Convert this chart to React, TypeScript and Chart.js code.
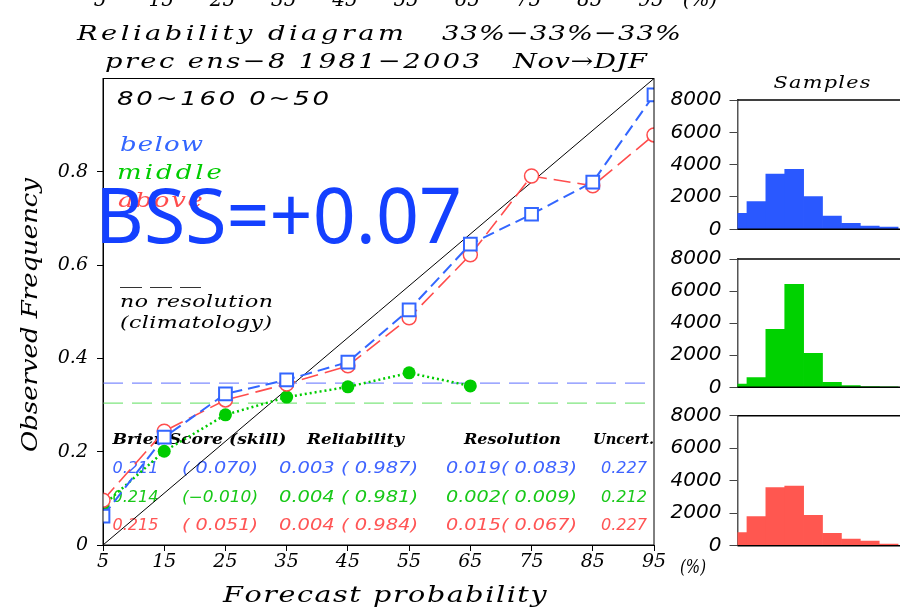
import React, { useEffect, useRef } from 'react';
import { Chart, registerables } from 'chart.js';

Chart.register(...registerables);

// ---------------- data ----------------
const FCST = [5, 15, 25, 35, 45, 55, 65, 75, 85, 95];
const OBS_BELOW = [0.062, 0.231, 0.324, 0.354, 0.392, 0.504, 0.645, 0.709, 0.778, 0.965];
const OBS_MIDDLE = [0.085, 0.201, 0.279, 0.317, 0.339, 0.369, 0.341, null, null, null];
const OBS_ABOVE = [0.096, 0.244, 0.311, 0.345, 0.384, 0.487, 0.622, 0.791, 0.770, 0.879];
const CLIM_BELOW = 0.347;
const CLIM_MIDDLE = 0.304;
const Y_TICKS = [0, 0.2, 0.4, 0.6, 0.8];

const HIST_BINS = [0, 1, 2, 3, 4, 5, 6, 7, 8];
const HIST_BELOW = [990, 1708, 3420, 3712, 2017, 823, 371, 204, 142];
const HIST_MIDDLE = [206, 600, 3616, 6422, 2120, 312, 100, 40, 12];
const HIST_ABOVE = [800, 1785, 3570, 3674, 1870, 763, 412, 289, 105];
const HIST_TICKS = [0, 2000, 4000, 6000, 8000];

const CATEGORIES = ['below', 'middle', 'above'];
const BRIER = [0.211, 0.214, 0.215];
const BRIER_SKILL = [0.07, -0.01, 0.051];
const RELIAB = [0.003, 0.004, 0.004];
const RELIAB_SKILL = [0.987, 0.981, 0.984];
const RESOL = [0.019, 0.002, 0.015];
const RESOL_SKILL = [0.083, 0.009, 0.067];
const UNCERT = [0.227, 0.212, 0.227];
const BSS = 0.07;

const TITLE_1A = 'Reliability diagram';
const TITLE_1B = '33%\u221233%\u221233%';
const TITLE_2A = 'prec ens\u22128 1981\u22122003';
const TITLE_2B = 'Nov\u2192DJF';
const REGION = '80~160 0~50';

// ---------------- styles ----------------
const SERIF = '"DejaVu Serif", "Liberation Serif", serif';
const SANS = '"DejaVu Sans", "Liberation Sans", sans-serif';
const BLUE = '#3366ff';
const GREEN = '#00cc00';
const RED = '#ff4d4d';
const CAT_COLORS = ['#3f64ff', '#18c818', '#ff5555'];

function fmt3(v: number) {
  return v.toFixed(3);
}
function fmtSkill(v: number) {
  return v < 0 ? '\u2212' + Math.abs(v).toFixed(3) : ' ' + v.toFixed(3);
}

function fitText(
  ctx: CanvasRenderingContext2D,
  text: string,
  x: number,
  y: number,
  width: number,
  font: string,
  color: string,
  align: 'left' | 'center' = 'left',
  maxStretch = 1.3
) {
  ctx.save();
  ctx.font = font;
  ctx.fillStyle = color;
  ctx.textAlign = 'left';
  ctx.textBaseline = 'alphabetic';
  const chars = Array.from(text);
  const w = ctx.measureText(text).width;
  const left = align === 'center' ? x - width / 2 : x;
  const ratio = width / w;
  ctx.translate(left, y);
  if (ratio <= 1 || chars.length < 2) {
    ctx.scale(ratio, 1);
    ctx.fillText(text, 0, 0);
  } else {
    const sx = Math.min(ratio, maxStretch);
    const ls = (width - w * sx) / (chars.length - 1);
    ctx.scale(sx, 1);
    let cx = 0;
    for (const ch of chars) {
      ctx.fillText(ch, cx, 0);
      cx += ctx.measureText(ch).width + ls / sx;
    }
  }
  ctx.restore();
}

const mainTextPlugin = {
  id: 'mainText',
  beforeDatasetsDraw(chart: any) {
    const ctx: CanvasRenderingContext2D = chart.ctx;
    // region label and legend
    fitText(ctx, REGION, 117, 105, 212, 'italic 20px ' + SANS, '#000');
    fitText(ctx, CATEGORIES[0], 120, 151, 83, 'italic 20px ' + SERIF, BLUE);
    fitText(ctx, CATEGORIES[1], 117, 179, 105, 'italic 20px ' + SERIF, GREEN);
    fitText(ctx, CATEGORIES[2], 118, 207, 85, 'italic 20px ' + SERIF, RED);
    // no resolution legend
    ctx.save();
    ctx.strokeStyle = '#333';
    ctx.lineWidth = 1;
    ctx.setLineDash([22, 8]);
    ctx.beginPath();
    ctx.moveTo(120, 287.5);
    ctx.lineTo(201, 287.5);
    ctx.stroke();
    ctx.restore();
    fitText(ctx, 'no resolution', 120, 307, 153, 'italic 17px ' + SERIF, '#000');
    fitText(ctx, '(climatology)', 120, 328, 152, 'italic 17px ' + SERIF, '#000');
    // table
    const hf = 'bold italic 14px ' + SERIF;
    fitText(ctx, 'Brier Score (skill)', 112.5, 444, 174, hf, '#000');
    fitText(ctx, 'Reliability', 307, 444, 97, hf, '#000');
    fitText(ctx, 'Resolution', 464, 444, 97, hf, '#000');
    fitText(ctx, 'Uncert.', 593, 444, 61, hf, '#000');
    const rf = 'italic 15px ' + SANS;
    const rowY = [473, 502, 530];
    for (let i = 0; i < 3; i++) {
      const c = CAT_COLORS[i];
      const y = rowY[i];
      fitText(ctx, fmt3(BRIER[i]), 112.5, y, 46, rf, c);
      fitText(ctx, '(' + fmtSkill(BRIER_SKILL[i]) + ')', 182, y, 76, rf, c);
      fitText(ctx, fmt3(RELIAB[i]) + ' (' + fmtSkill(RELIAB_SKILL[i]) + ')', 279, y, 139, rf, c);
      fitText(ctx, fmt3(RESOL[i]) + '(' + fmtSkill(RESOL_SKILL[i]) + ')', 446, y, 131, rf, c);
      fitText(ctx, fmt3(UNCERT[i]), 601, y, 46, rf, c);
    }
  },
  afterDraw(chart: any) {
    const ctx: CanvasRenderingContext2D = chart.ctx;
    const a = chart.chartArea;
    const xs = chart.scales.x;
    // frame
    ctx.save();
    ctx.strokeStyle = '#000';
    ctx.lineWidth = 1;
    ctx.strokeRect(a.left, a.top, a.right - a.left, a.bottom - a.top);
    ctx.restore();
    // cut-off labels of the panel above
    ctx.save();
    ctx.font = 'italic 20px ' + SERIF;
    ctx.fillStyle = '#000';
    ctx.textAlign = 'center';
    ctx.textBaseline = 'alphabetic';
    FCST.forEach((v) => ctx.fillText(String(v), xs.getPixelForValue(v) - 3, 6));
    ctx.fillText('(%)', 700, 6);
    ctx.restore();
    // titles
    const tf = 'italic 21px ' + SERIF;
    fitText(ctx, TITLE_1A, 77, 40, 327, tf, '#000');
    fitText(ctx, TITLE_1B, 442, 40, 239, tf, '#000');
    fitText(ctx, TITLE_2A, 105, 68, 375, tf, '#000');
    fitText(ctx, TITLE_2B, 513, 68, 134, tf, '#000');
    // axis titles
    fitText(ctx, 'Forecast probability', 384, 602, 322, 'italic 22px ' + SERIF, '#000', 'center');
    fitText(ctx, '(%)', 680, 573, 26, 'italic 18px ' + SERIF, '#000');
    ctx.save();
    ctx.translate(37, 452);
    ctx.rotate(-Math.PI / 2);
    fitText(ctx, 'Observed Frequency', 0, 0, 274, 'italic 22px ' + SERIF, '#000');
    ctx.restore();
    // histogram title
    fitText(ctx, 'Samples', 822, 88, 97, 'italic 16px ' + SERIF, '#000', 'center');
    // BSS
    ctx.save();
    ctx.font = '76px "Noto Sans", "Open Sans", sans-serif';
    ctx.fillStyle = '#1440ff';
    ctx.textBaseline = 'alphabetic';
    const s = 'BSS=' + (BSS >= 0 ? '+' : '\u2212') + BSS.toFixed(2);
    const w = ctx.measureText(s).width;
    ctx.translate(95, 243);
    ctx.scale(367 / w, 1);
    ctx.fillText(s, 0, 0);
    ctx.restore();
  },
};

function xy(values: (number | null)[]) {
  return FCST.map((x, i) => ({ x, y: values[i] })).filter((p) => p.y !== null);
}

function mainConfig(): any {
  return {
    type: 'line',
    data: {
      datasets: [
        {
          label: 'below',
          data: xy(OBS_BELOW),
          borderColor: BLUE,
          borderWidth: 2,
          borderDash: [12, 6],
          pointStyle: 'rect',
          pointRadius: 9,
          pointBorderWidth: 2,
          pointBorderColor: BLUE,
          pointBackgroundColor: '#fff',
          order: 1,
        },
        {
          label: 'above',
          data: xy(OBS_ABOVE),
          borderColor: RED,
          borderWidth: 1.6,
          borderDash: [17, 7],
          pointStyle: 'circle',
          pointRadius: 7,
          pointBorderWidth: 1.5,
          pointBorderColor: RED,
          pointBackgroundColor: '#fff',
          order: 2,
        },
        {
          label: 'middle',
          data: xy(OBS_MIDDLE),
          borderColor: GREEN,
          borderWidth: 2.5,
          borderDash: [2, 3],
          pointStyle: 'circle',
          pointRadius: 6.5,
          pointBorderWidth: 0,
          pointBackgroundColor: GREEN,
          order: 3,
        },
        {
          label: 'clim below',
          data: [
            { x: FCST[0], y: CLIM_BELOW },
            { x: FCST[FCST.length - 1], y: CLIM_BELOW },
          ],
          borderColor: '#7f8cff',
          borderWidth: 1.2,
          borderDash: [20, 9],
          pointRadius: 0,
          order: 8,
        },
        {
          label: 'clim middle',
          data: [
            { x: FCST[0], y: CLIM_MIDDLE },
            { x: FCST[FCST.length - 1], y: CLIM_MIDDLE },
          ],
          borderColor: '#7fe67f',
          borderWidth: 1.2,
          borderDash: [20, 9],
          pointRadius: 0,
          order: 9,
        },
        {
          label: 'perfect',
          data: [
            { x: FCST[0], y: 0 },
            { x: FCST[FCST.length - 1], y: 1 },
          ],
          borderColor: '#000',
          borderWidth: 1,
          pointRadius: 0,
          order: 10,
        },
      ],
    },
    options: {
      responsive: false,
      animation: false,
      devicePixelRatio: 1,
      layout: { padding: { left: 0, top: 78.5, right: 246, bottom: 34 } },
      plugins: {
        legend: { display: false },
        tooltip: { enabled: false },
        title: { display: false },
      },
      elements: { line: { tension: 0, fill: false } },
      scales: {
        x: {
          type: 'linear',
          min: FCST[0],
          max: FCST[FCST.length - 1],
          afterBuildTicks: (s: any) => {
            s.ticks = FCST.map((v) => ({ value: v }));
          },
          afterFit: (s: any) => {
            s.height = 30;
          },
          ticks: {
            autoSkip: false,
            maxRotation: 0,
            padding: 0,
            color: '#000',
            font: { family: SERIF, size: 19, style: 'italic' },
            callback: (v: any) => String(v),
          },
          grid: { drawOnChartArea: false, drawTicks: true, tickLength: 6, color: '#000' },
          border: { display: true, color: '#000', width: 1 },
        },
        y: {
          type: 'linear',
          min: 0,
          max: 1,
          afterBuildTicks: (s: any) => {
            s.ticks = Y_TICKS.map((v) => ({ value: v }));
          },
          afterFit: (s: any) => {
            s.width = 103;
          },
          ticks: {
            padding: 9,
            color: '#000',
            font: { family: SERIF, size: 19, style: 'italic' },
            callback: (v: any) => (v === 0 ? '0' : Number(v).toFixed(1)),
          },
          grid: { drawOnChartArea: false, drawTicks: true, tickLength: 6, color: '#000' },
          border: { display: true, color: '#000', width: 1 },
        },
      },
    },
    plugins: [mainTextPlugin],
  };
}

const histFramePlugin = {
  id: 'histFrame',
  afterDraw(chart: any) {
    const ctx: CanvasRenderingContext2D = chart.ctx;
    const a = chart.chartArea;
    ctx.save();
    ctx.strokeStyle = '#000';
    ctx.lineWidth = 1.5;
    ctx.beginPath();
    ctx.moveTo(a.left, a.top);
    ctx.lineTo(a.right, a.top);
    ctx.moveTo(a.left, a.bottom);
    ctx.lineTo(a.right, a.bottom);
    ctx.stroke();
    ctx.restore();
  },
};

const HIST_AXIS_W = 80;

function histConfig(values: number[], color: string, top: number, bottom: number): any {
  return {
    type: 'bar',
    data: {
      datasets: [
        {
          data: HIST_BINS.map((b, i) => ({ x: b, y: values[i] })),
          backgroundColor: color,
          borderWidth: 0,
          barPercentage: 1,
          categoryPercentage: 1,
        },
      ],
    },
    options: {
      responsive: false,
      animation: false,
      devicePixelRatio: 1,
      layout: { padding: { left: 737.5 - HIST_AXIS_W, top: top, right: 0, bottom: 609 - bottom } },
      plugins: {
        legend: { display: false },
        tooltip: { enabled: false },
        title: { display: false },
      },
      scales: {
        x: {
          type: 'linear',
          min: 0,
          max: 8.6,
          offset: false,
          display: false,
        },
        y: {
          type: 'linear',
          min: 0,
          max: 8000,
          afterBuildTicks: (s: any) => {
            s.ticks = HIST_TICKS.map((v) => ({ value: v }));
          },
          afterFit: (s: any) => {
            s.width = HIST_AXIS_W;
          },
          ticks: {
            padding: 8,
            color: '#000',
            font: { family: SANS, size: 20, style: 'italic' },
            callback: (v: any) => String(v),
          },
          grid: { drawOnChartArea: false, drawTicks: true, tickLength: 8, color: '#444' },
          border: { display: true, color: '#555', width: 1.5 },
        },
      },
    },
    plugins: [histFramePlugin],
  };
}

const canvasStyle: React.CSSProperties = {
  position: 'absolute',
  left: 0,
  top: 0,
  width: 900,
  height: 609,
};

export default function App() {
  const mainRef = useRef<HTMLCanvasElement>(null);
  const h1Ref = useRef<HTMLCanvasElement>(null);
  const h2Ref = useRef<HTMLCanvasElement>(null);
  const h3Ref = useRef<HTMLCanvasElement>(null);

  useEffect(() => {
    const charts: Chart[] = [];
    if (mainRef.current) charts.push(new Chart(mainRef.current, mainConfig()));
    if (h1Ref.current) charts.push(new Chart(h1Ref.current, histConfig(HIST_BELOW, '#2a58ff', 100, 229.3)));
    if (h2Ref.current) charts.push(new Chart(h2Ref.current, histConfig(HIST_MIDDLE, '#00d200', 259, 387.3)));
    if (h3Ref.current) charts.push(new Chart(h3Ref.current, histConfig(HIST_ABOVE, '#ff5750', 415.7, 545.7)));
    return () => {
      charts.forEach((c) => c.destroy());
    };
  }, []);

  return (
    <div
      style={{
        position: 'fixed',
        left: 0,
        top: 0,
        width: 900,
        height: 609,
        background: '#fff',
        overflow: 'hidden',
      }}
    >
      <canvas ref={mainRef} width={900} height={609} style={canvasStyle} />
      <canvas ref={h1Ref} width={900} height={609} style={canvasStyle} />
      <canvas ref={h2Ref} width={900} height={609} style={canvasStyle} />
      <canvas ref={h3Ref} width={900} height={609} style={canvasStyle} />
    </div>
  );
}
